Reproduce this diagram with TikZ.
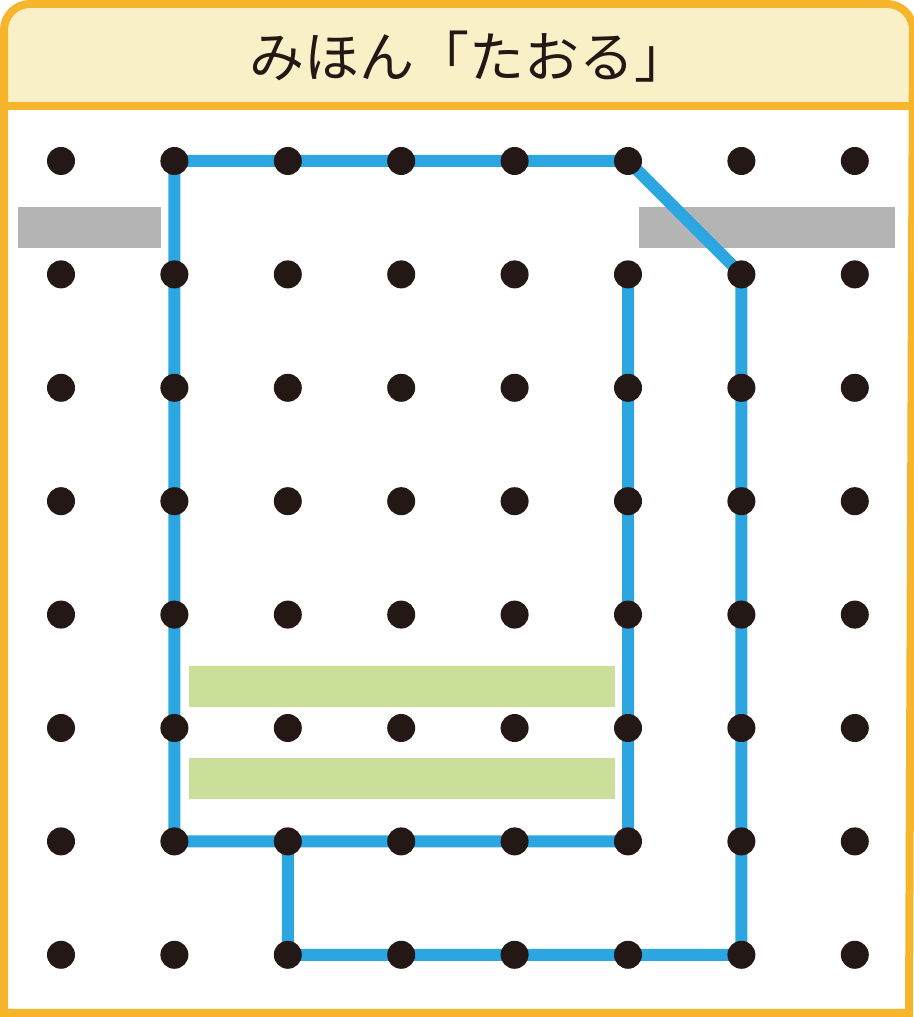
\documentclass[tikz,border=0pt]{standalone}
\usepackage{fontspec}
\newfontfamily\jpfont{Noto Sans CJK JP}
\usetikzlibrary{backgrounds}
\definecolor{frameorange}{HTML}{F7B52C}
\definecolor{titlefill}{HTML}{FAF0C8}
\definecolor{pathblue}{HTML}{2CA6E0}
\definecolor{dotblack}{HTML}{231815}
\definecolor{bargray}{HTML}{B4B4B4}
\definecolor{bargreen}{HTML}{C9DF9A}
\tikzset{
  peg/.style={circle, fill=dotblack, minimum size=28pt, inner sep=0pt, draw=none},
  route/.style={draw=pathblue, line width=12pt, line join=miter},
  frame/.style={draw=frameorange, line width=8pt},
  graybar/.style={fill=bargray},
  greenbar/.style={fill=bargreen},
}
\begin{document}
\begin{tikzpicture}[x=1pt,y=1pt]
\useasboundingbox (0,0) rectangle (913,1017);
% pegs
\foreach \i in {0,...,7}{
  \foreach \j in {0,...,7}{
    \node[peg] (d-\i-\j) at ({61+113.4*\i},{856-113.4*\j}) {};
  }
}
\begin{pgfonlayer}{background}
  % title area
  \fill[titlefill] (4,911) -- (4,987) arc[start angle=180,end angle=90,radius=26]
    -- (887,1013) arc[start angle=90,end angle=0,radius=26] -- (909,911) -- cycle;
  % bars
  \path[graybar] (18,769) rectangle (161,810);
  \path[graybar] (639,769) rectangle (895,810);
  \path[greenbar] (189,310) rectangle (615,351);
  \path[greenbar] (189,218) rectangle (615,259);
  % route
  \draw[route] (d-5-1.center) -- (d-5-6.center) -- (d-1-6.center) -- (d-1-0.center)
    -- (d-5-0.center) -- (d-6-1.center) -- (d-6-7.center) -- (d-2-7.center) -- (d-2-6.center);
\end{pgfonlayer}
% frame
\draw[frame] (4,4) -- (4,987) arc[start angle=180,end angle=90,radius=26]
  -- (887,1013) arc[start angle=90,end angle=0,radius=26] -- (909,4) -- cycle;
\draw[frame] (4,911) -- (909,911);
% title
\node[text=dotblack, font=\jpfont\fontsize{55pt}{62pt}\selectfont, inner sep=0pt] (title) at (469,960) {みほん「たおる」};
\end{tikzpicture}
\end{document}
